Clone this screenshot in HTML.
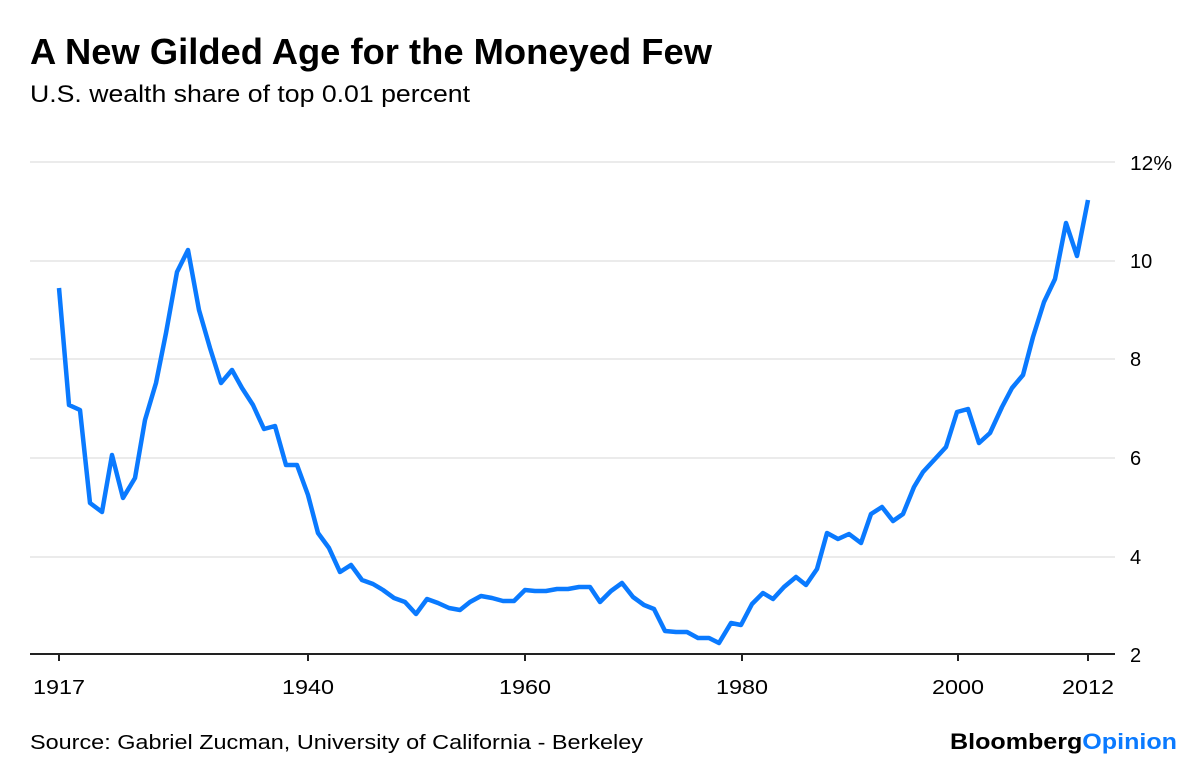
<!DOCTYPE html>
<html><head><style>
body{margin:0;background:#fff;width:1200px;height:767px;overflow:hidden;font-family:"Liberation Sans",sans-serif}
</style></head><body>
<svg width="1200" height="767" xmlns="http://www.w3.org/2000/svg" font-family="Liberation Sans, sans-serif">
<text x="30" y="64" font-size="36" font-weight="bold" fill="#000" textLength="682" lengthAdjust="spacingAndGlyphs">A New Gilded Age for the Moneyed Few</text>
<text x="30" y="102" font-size="24" fill="#000" textLength="440" lengthAdjust="spacingAndGlyphs">U.S. wealth share of top 0.01 percent</text>
<g stroke="#ebebeb" stroke-width="2">
<line x1="30" x2="1115" y1="162" y2="162"/><line x1="30" x2="1115" y1="261" y2="261"/>
<line x1="30" x2="1115" y1="359" y2="359"/><line x1="30" x2="1115" y1="458" y2="458"/>
<line x1="30" x2="1115" y1="557" y2="557"/></g>
<line x1="30" x2="1115" y1="654" y2="654" stroke="#222" stroke-width="2"/>
<g stroke="#222" stroke-width="2"><line x1="59" x2="59" y1="654" y2="661"/><line x1="308" x2="308" y1="654" y2="661"/><line x1="525" x2="525" y1="654" y2="661"/><line x1="742" x2="742" y1="654" y2="661"/><line x1="958" x2="958" y1="654" y2="661"/><line x1="1088" x2="1088" y1="654" y2="661"/></g>
<g font-size="20" fill="#000" text-anchor="middle">
<text x="59" y="694" textLength="52" lengthAdjust="spacingAndGlyphs">1917</text><text x="308" y="694" textLength="52" lengthAdjust="spacingAndGlyphs">1940</text><text x="525" y="694" textLength="52" lengthAdjust="spacingAndGlyphs">1960</text><text x="742" y="694" textLength="52" lengthAdjust="spacingAndGlyphs">1980</text><text x="958" y="694" textLength="52" lengthAdjust="spacingAndGlyphs">2000</text><text x="1088" y="694" textLength="52" lengthAdjust="spacingAndGlyphs">2012</text></g>
<g font-size="20" fill="#000" text-anchor="start">
<text x="1130" y="170" textLength="42" lengthAdjust="spacingAndGlyphs">12%</text><text x="1130" y="268">10</text><text x="1130" y="366">8</text><text x="1130" y="465">6</text><text x="1130" y="564">4</text><text x="1130" y="662">2</text></g>
<polyline fill="none" stroke="#0a7aff" stroke-width="4.5" stroke-linejoin="round" points="59,288 69,405 80,410 90,503 102,512 112,455 123,498 135,478 145,420 156,383 166,333 177,272 188,250 199,310 210,348 221,383 232,370 242,388 253,405 264,429 275,426 286,465 297,465 308,495 318,533 329,548 340,572 351,565 362,580 373,584 383,590 394,598 405,602 416,614 427,599 438,603 449,608 460,610 470,602 481,596 492,598 503,601 514,601 525,590 535,591 546,591 557,589 568,589 579,587 590,587 600,602 611,591 622,583 633,597 644,605 654,609 665,631 676,632 687,632 698,638 709,638 719,643 731,623 741,625 752,604 763,593 773,599 784,587 796,577 806,585 817,569 827,533 838,539 849,534 861,543 871,514 882,507 893,521 903,514 914,487 923,472 935,459 946,447 957,412 968,409 979,443 990,433 1002,407 1012,388 1023,375 1033,337 1044,302 1055,279 1066,223 1077,256 1088,200"/>
<text x="30" y="749" font-size="20" fill="#000" textLength="613" lengthAdjust="spacingAndGlyphs">Source: Gabriel Zucman, University of California - Berkeley</text>
<text x="950" y="749" font-size="22" font-weight="bold" textLength="227" lengthAdjust="spacingAndGlyphs"><tspan fill="#000">Bloomberg</tspan><tspan fill="#0a7aff">Opinion</tspan></text>
</svg>
</body></html>
